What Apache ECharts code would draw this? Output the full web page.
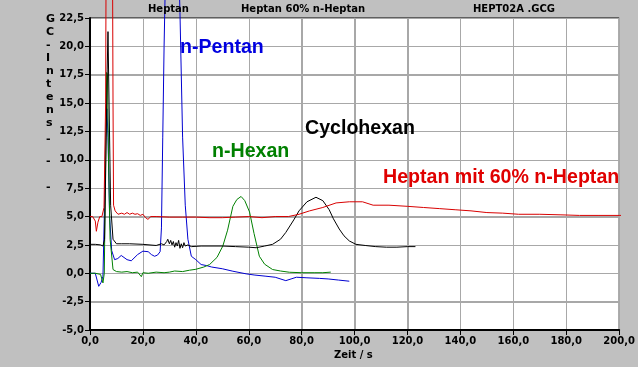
<!DOCTYPE html>
<html>
<head>
<meta charset="utf-8">
<script src="https://cdn.jsdelivr.net/npm/echarts@6/dist/echarts.min.js"></script>
<style>
html,body{margin:0;padding:0;background:#c0c0c0;}
#wrap{position:relative;width:638px;height:367px;}
#plotbg{position:absolute;left:90px;top:18px;width:530px;height:312px;background:#fff;}
#chart{position:absolute;left:0;top:0;width:638px;height:367px;}
</style>
</head>
<body>
<div id="wrap"><div id="plotbg"></div><div id="chart"></div></div>
<script>
// ---- data (time in s, intensity) ----
const heptanT = [0,1,2,2.4,3,3.7,4.5,5.3,5.6,5.9,6.2,7.3,8.4,8.7,8.9,9.5,10.6,12,13,14,15,16,17,18,19,20,21,21.9,23,25,30,35,40,45,50,55,60,65,70,75,79,83,88,93,98,103,107,113,120,126,132,138,144,150,156,162,170,178,185,192,200,205];
const heptanV = [5.0,5.0,4.6,3.7,4.5,5.0,5.0,5.8,5.8,15,35,60,35,15,6.0,5.5,5.2,5.3,5.2,5.35,5.2,5.3,5.2,5.25,5.1,5.2,4.9,4.75,5.0,5.0,4.95,4.95,4.95,4.9,4.9,4.95,5.0,4.9,5.0,5.0,5.2,5.5,5.8,6.2,6.3,6.3,6.0,6.0,5.9,5.8,5.7,5.6,5.5,5.35,5.3,5.2,5.2,5.15,5.1,5.1,5.1,5.1];

const cycloT = [0,2,4,4.9,5.5,6.0,6.5,6.8,7.2,7.8,8.7,10,12,15,20,25,27,28,29,29.4,30,30.5,31,31.5,32,32.5,33,33.5,34,34.5,35,35.5,36,37,38.3,42,50,55,60,62.8,66,69,72,74,77,79,82,85.4,88,90.4,92,94.2,96,98,100.5,104,108,112,116,120,123];
const cycloV = [2.55,2.55,2.5,2.4,3.0,10,18,21.3,15,6,3.0,2.6,2.6,2.6,2.55,2.45,2.6,2.5,2.8,3.0,2.6,2.9,2.5,2.8,2.3,2.7,2.4,2.9,2.2,2.6,2.25,2.7,2.4,2.5,2.35,2.4,2.4,2.35,2.3,2.25,2.4,2.55,3.0,3.6,4.7,5.5,6.3,6.7,6.4,5.6,4.8,3.9,3.3,2.85,2.55,2.45,2.35,2.3,2.3,2.35,2.35];

const hexanT = [0,2,4,4.9,5.4,5.8,6.3,6.6,7.0,7.6,8.7,10,12,14,16,18,19.4,20,22,25,28,30,32,35,37.6,40,43,45.2,48,50.2,52,54,55.5,57.1,58.5,60.3,62,64,66,69,72,75.4,80,85,88,91];
const hexanV = [0,0,-0.1,-0.85,0,8,17.7,17.5,10,3,0.33,0.15,0.1,0.15,0.05,0.1,-0.3,0.05,0.0,0.1,0.05,0.1,0.2,0.15,0.27,0.35,0.55,0.77,1.4,2.4,3.8,5.9,6.5,6.77,6.4,5.4,3.5,1.5,0.8,0.33,0.2,0.09,0.05,0.05,0.05,0.1];

const pentanT = [0,2,3.3,4.2,4.9,5.4,5.9,6.4,6.8,7.4,8.2,9.3,10.5,11.8,12.5,14,15.6,16.2,18,20,20.6,22,23.2,24.4,25.5,26.5,27,27.5,28,29,30,31,32,33,34,35,36,37,38.3,40,42,44,46,50,54,59,62,66.5,70,74,76,78,82,86.7,90,94,98];
const pentanV = [0,0,-1.15,-0.8,-0.26,5,12,14.5,12,5,2,1.2,1.3,1.57,1.5,1.2,1.1,1.07,1.65,1.95,2.1,1.9,1.65,1.5,1.6,1.9,4,12,20,32,45,55,45,32,23,12,6,3,1.5,1.2,0.77,0.68,0.55,0.4,0.18,-0.05,-0.15,-0.26,-0.35,-0.65,-0.5,-0.35,-0.4,-0.45,-0.5,-0.6,-0.7];

const xTickVals = [0,20,40,60,80,100,120,140,160,180,200];
const yTickVals = [-5,-2.5,0,2.5,5,7.5,10,12.5,15,17.5,20,22.5];

const titles = ['Heptan', 'Heptan 60% n-Heptan', 'HEPT02A .GCG'];
const yNameChars = ['G','C','-','I','n','t','e','n','s','-','-','-'];
const xName = 'Zeit / s';
const seriesNames = ['n-Pentan', 'n-Hexan', 'Cyclohexan', 'Heptan mit 60% n-Heptan'];

function zip(t, v){ return t.map((x,i)=>[x, v[i]]); }
function fmt(v){ return v.toFixed(1).replace('.', ','); }

const chart = echarts.init(document.getElementById('chart'));
const FONT = 'DejaVu Sans';
const labFont = {fontFamily: FONT, fontWeight: 'bold', fontSize: 10, color: '#000'};

const yNameY = [20,33,46,59,72,85,98,111,124,140,162,188];
const graphics = [];
yNameChars.forEach((c,i)=>{
  graphics.push({type:'text', z:100, left: 46, top: yNameY[i]-6, style:{text:c, fill:'#000', font:'bold 11px "DejaVu Sans"'}});
});
graphics.push({type:'text', z:100, left:148, top:4, style:{text:titles[0], fill:'#000', font:'bold 10px "DejaVu Sans"'}});
graphics.push({type:'text', z:100, left:241, top:4, style:{text:titles[1], fill:'#000', font:'bold 10px "DejaVu Sans"'}});
graphics.push({type:'text', z:100, left:473, top:4, style:{text:titles[2], fill:'#000', font:'bold 10px "DejaVu Sans"'}});
graphics.push({type:'text', z:100, left:334, top:350, style:{text:xName, fill:'#000', font:'bold 10px "DejaVu Sans"'}});
const annFont = 'bold 19.6px "Liberation Sans"';
graphics.push({type:'text', z:100, left:180, top:38, style:{text:seriesNames[0], fill:'#0000e0', font:annFont}});
graphics.push({type:'text', z:100, left:212, top:142, style:{text:seriesNames[1], fill:'#008000', font:annFont}});
graphics.push({type:'text', z:100, left:305, top:119, style:{text:seriesNames[2], fill:'#000000', font:annFont}});
graphics.push({type:'text', z:100, left:383, top:168, style:{text:seriesNames[3], fill:'#e00000', font:annFont}});

function lineSeries(name, data, color){
  return {name, type:'line', data, showSymbol:false, symbol:'none', clip:false, animation:false, z:5,
    lineStyle:{color, width:1}, itemStyle:{color}};
}

chart.setOption({
  backgroundColor: 'transparent',
  animation: false,
  grid: {left: 90, right: 18, top: 18, bottom: 37, show: true, backgroundColor: 'transparent', borderColor: '#000', borderWidth: 1},
  xAxis: {
    type: 'value', min: xTickVals[0], max: xTickVals[xTickVals.length-1], interval: xTickVals[1]-xTickVals[0], z: 3,
    axisLine: {show: true, onZero: false, lineStyle: {color: '#000', width: 2}},
    axisTick: {show: true, length: 5, lineStyle: {color: '#000', width: 1}},
    axisLabel: Object.assign({formatter: fmt, margin: 6}, labFont),
    splitLine: {show: true, lineStyle: {color: '#a8a8a8', width: 1}}
  },
  yAxis: {
    type: 'value', min: yTickVals[0], max: yTickVals[yTickVals.length-1], interval: yTickVals[1]-yTickVals[0], z: 3,
    axisLine: {show: true, onZero: false, lineStyle: {color: '#000', width: 2}},
    axisTick: {show: true, length: 5, lineStyle: {color: '#000', width: 1}},
    axisLabel: Object.assign({formatter: fmt, margin: 6}, labFont),
    splitLine: {show: true, lineStyle: {color: '#a8a8a8', width: 1}}
  },
  graphic: graphics,
  series: [
    lineSeries(seriesNames[0], zip(pentanT, pentanV), '#0000d0'),
    lineSeries(seriesNames[1], zip(hexanT, hexanV), '#008000'),
    lineSeries(seriesNames[2], zip(cycloT, cycloV), '#000000'),
    lineSeries(seriesNames[3], zip(heptanT, heptanV), '#d80000')
  ]
});

// Grid lines positioned through the library's own scales
const gridG = [];
xTickVals.slice(1, -1).forEach(v => {
  const a = chart.convertToPixel({gridIndex: 0}, [v, yTickVals[0]]);
  const b = chart.convertToPixel({gridIndex: 0}, [v, yTickVals[yTickVals.length-1]]);
  const x = Math.round(a[0]) + 0.5;
  gridG.push({type: 'line', z: 1, silent: true, shape: {x1: x, y1: a[1], x2: x, y2: b[1]}, style: {stroke: '#a8a8a8', lineWidth: 1}});
});
yTickVals.slice(1, -1).forEach(v => {
  const a = chart.convertToPixel({gridIndex: 0}, [xTickVals[0], v]);
  const b = chart.convertToPixel({gridIndex: 0}, [xTickVals[xTickVals.length-1], v]);
  const y = Math.round(a[1]) + 0.5;
  gridG.push({type: 'line', z: 1, silent: true, shape: {x1: a[0], y1: y, x2: b[0], y2: y}, style: {stroke: '#a8a8a8', lineWidth: 1}});
});
chart.setOption({graphic: graphics.concat(gridG)});
</script>
</body>
</html>
